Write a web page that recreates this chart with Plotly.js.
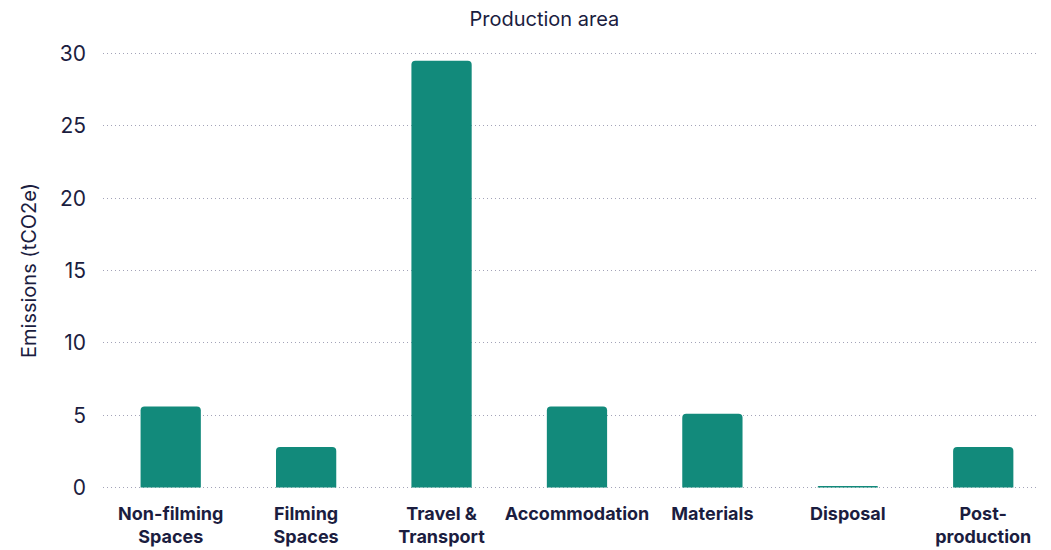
<!DOCTYPE html>
<html>
<head>
<meta charset="utf-8">
<script src="https://cdn.plot.ly/plotly-3.0.1.min.js"></script>
<style>html,body{margin:0;padding:0;background:#fff;}#chart{width:1051px;height:550px;}</style>
</head>
<body>
<div id="chart"></div>
<script>
const categories = ["Non-filming<br>Spaces", "Filming<br>Spaces", "Travel &<br>Transport", "Accommodation", "Materials", "Disposal", "Post-<br>production"];
const emissions = [5.6, 2.8, 29.5, 5.6, 5.1, 0.1, 2.8];
const yTicks = [0, 5, 10, 15, 20, 25, 30];

const navy = '#1b1d3f';
const fontFam = 'Inter, "Noto Sans", sans-serif';

const trace = {
  type: 'bar',
  x: categories,
  y: emissions,
  marker: {color: '#128a7b', line: {width: 0}},
  hoverinfo: 'x+y'
};

const layout = {
  width: 1051,
  height: 550,
  margin: {l: 103, r: 14, t: 51.5, b: 60.5},
  paper_bgcolor: '#fff',
  plot_bgcolor: '#fff',
  bargap: 0.555,
  barcornerradius: 4,
  showlegend: false,
  font: {family: fontFam, color: navy},
  title: {
    text: 'Production area',
    font: {family: fontFam, size: 20, color: navy},
    x: 0.518, xref: 'container', xanchor: 'center',
    y: 0.966, yref: 'container', yanchor: 'middle'
  },
  xaxis: {
    type: 'category',
    range: [-0.5, 6.397],
    tickfont: {family: fontFam, size: 18, color: navy, weight: 'bold'},
    showgrid: false,
    showline: false,
    zeroline: false,
    ticks: '',
    automargin: false,
    ticklabelstandoff: 12
  },
  yaxis: {
    range: [-0.1, 30.1],
    tickvals: yTicks,
    ticktext: yTicks.map(String),
    tickfont: {family: fontFam, size: 21, color: navy},
    showgrid: true,
    gridcolor: '#a3a3b8',
    griddash: '1px,3px',
    gridwidth: 1,
    zeroline: false,
    showline: false,
    ticks: '',
    ticklabelstandoff: 16,
    automargin: false,
    title: {text: 'Emissions (tCO2e)', font: {family: fontFam, size: 20, color: navy}, standoff: 17}
  }
};

Plotly.newPlot('chart', [trace], layout, {displayModeBar: false, staticPlot: true});
</script>
</body>
</html>
